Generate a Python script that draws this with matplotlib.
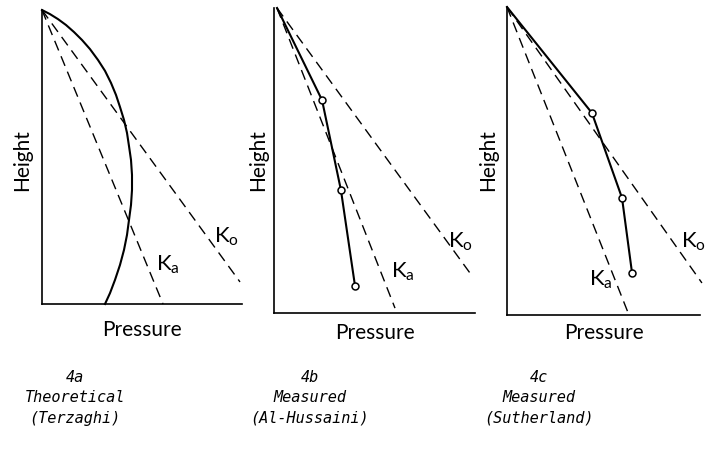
import numpy as np
import matplotlib
matplotlib.use('Agg')
import matplotlib.pyplot as plt

plt.rcParams['font.family'] = ['Lato', 'DejaVu Sans']

# normalised pressure (x) and height (y), 0..1 in each panel
terzaghi_p = [0.0, 0.04, 0.08, 0.12, 0.16, 0.20, 0.24, 0.28, 0.315, 0.345, 0.37, 0.39,
              0.41, 0.425, 0.435, 0.445, 0.45, 0.45, 0.445, 0.435, 0.425, 0.41, 0.39,
              0.365, 0.34, 0.315]
terzaghi_h = [1.0, 0.986, 0.969, 0.949, 0.925, 0.898, 0.867, 0.830, 0.793, 0.752, 0.711,
              0.670, 0.626, 0.582, 0.537, 0.490, 0.439, 0.388, 0.337, 0.286, 0.235,
              0.184, 0.133, 0.082, 0.037, 0.0]

hussaini_p = [0.015, 0.239, 0.333, 0.403]
hussaini_h = [1.0, 0.698, 0.403, 0.089]

sutherland_p = [0.0, 0.44, 0.596, 0.648]
sutherland_h = [1.0, 0.656, 0.38, 0.136]

ka_ends = [(0.605, 0.0), (0.602, 0.016), (0.632, 0.0)]
ko_ends = [(0.99, 0.075), (0.975, 0.131), (1.01, 0.104)]
apex_p = [0.0, 0.015, 0.0]

captions = [("4a", "Theoretical", "(Terzaghi)"),
            ("4b", "Measured", "(Al-Hussaini)"),
            ("4c", "Measured", "(Sutherland)")]

W, H = 715, 457
fig = plt.figure(figsize=(W/100, H/100), dpi=100)

# pixel boxes (left, top, right, bottom) of each panel
boxes = [(42, 10, 242, 304), (274, 8, 475, 313), (507, 7, 700, 315)]
ko_lbl = [(0.925, 0.23), (0.93, 0.233), (0.965, 0.237)]
ka_lbl = [(0.63, 0.133), (0.64, 0.134), (0.485, 0.114)]
height_x = [22, 258, 488]
press_y = [330, 333, 333]
cap_x = [75, 310, 539]

measured = [(terzaghi_p, terzaghi_h, False),
            (hussaini_p, hussaini_h, True),
            (sutherland_p, sutherland_h, True)]

dash = (0, (7.5, 4.5))
for i, (l, t, r, b) in enumerate(boxes):
    ax = fig.add_axes([l/W, 1 - b/H, (r-l)/W, (b-t)/H])
    ax.set_xlim(0, 1)
    ax.set_ylim(0, 1)
    ax.set_xticks([])
    ax.set_yticks([])
    for s in ['top', 'right']:
        ax.spines[s].set_visible(False)
    for s in ['left', 'bottom']:
        ax.spines[s].set_linewidth(1.2)
    ax.patch.set_alpha(0)

    x0 = apex_p[i]
    ax.plot([x0, ka_ends[i][0]], [1.0, ka_ends[i][1]], color='black', lw=1.0, ls=dash, clip_on=False)
    ax.plot([x0, ko_ends[i][0]], [1.0, ko_ends[i][1]], color='black', lw=1.0, ls=dash, clip_on=False)

    px, hy, pts = measured[i]
    ax.plot(px, hy, color='black', lw=1.5, clip_on=False, solid_joinstyle='round')
    if pts:
        ax.plot(px[1:], hy[1:], 'o', ms=5, mfc='white', mec='black', mew=1.1, clip_on=False)

    ax.text(ko_lbl[i][0], ko_lbl[i][1], r'$\mathregular{K_o}$', fontsize=16,
            ha='center', va='center')
    ax.text(ka_lbl[i][0], ka_lbl[i][1], r'$\mathregular{K_a}$', fontsize=16,
            ha='center', va='center')

    fig.text(height_x[i]/W, 1 - 160/H, 'Height', rotation=90, fontsize=15,
             ha='center', va='center')
    fig.text(((l + r)/2)/W, 1 - press_y[i]/H, 'Pressure', fontsize=15,
             ha='center', va='center')

    for j, line in enumerate(captions[i]):
        fig.text(cap_x[i]/W, 1 - (377 + 20.5*j)/H, line, fontsize=11,
                 family='DejaVu Sans Mono', style='italic',
                 ha='center', va='center')

fig.savefig('out.png', dpi=100, facecolor='white')
